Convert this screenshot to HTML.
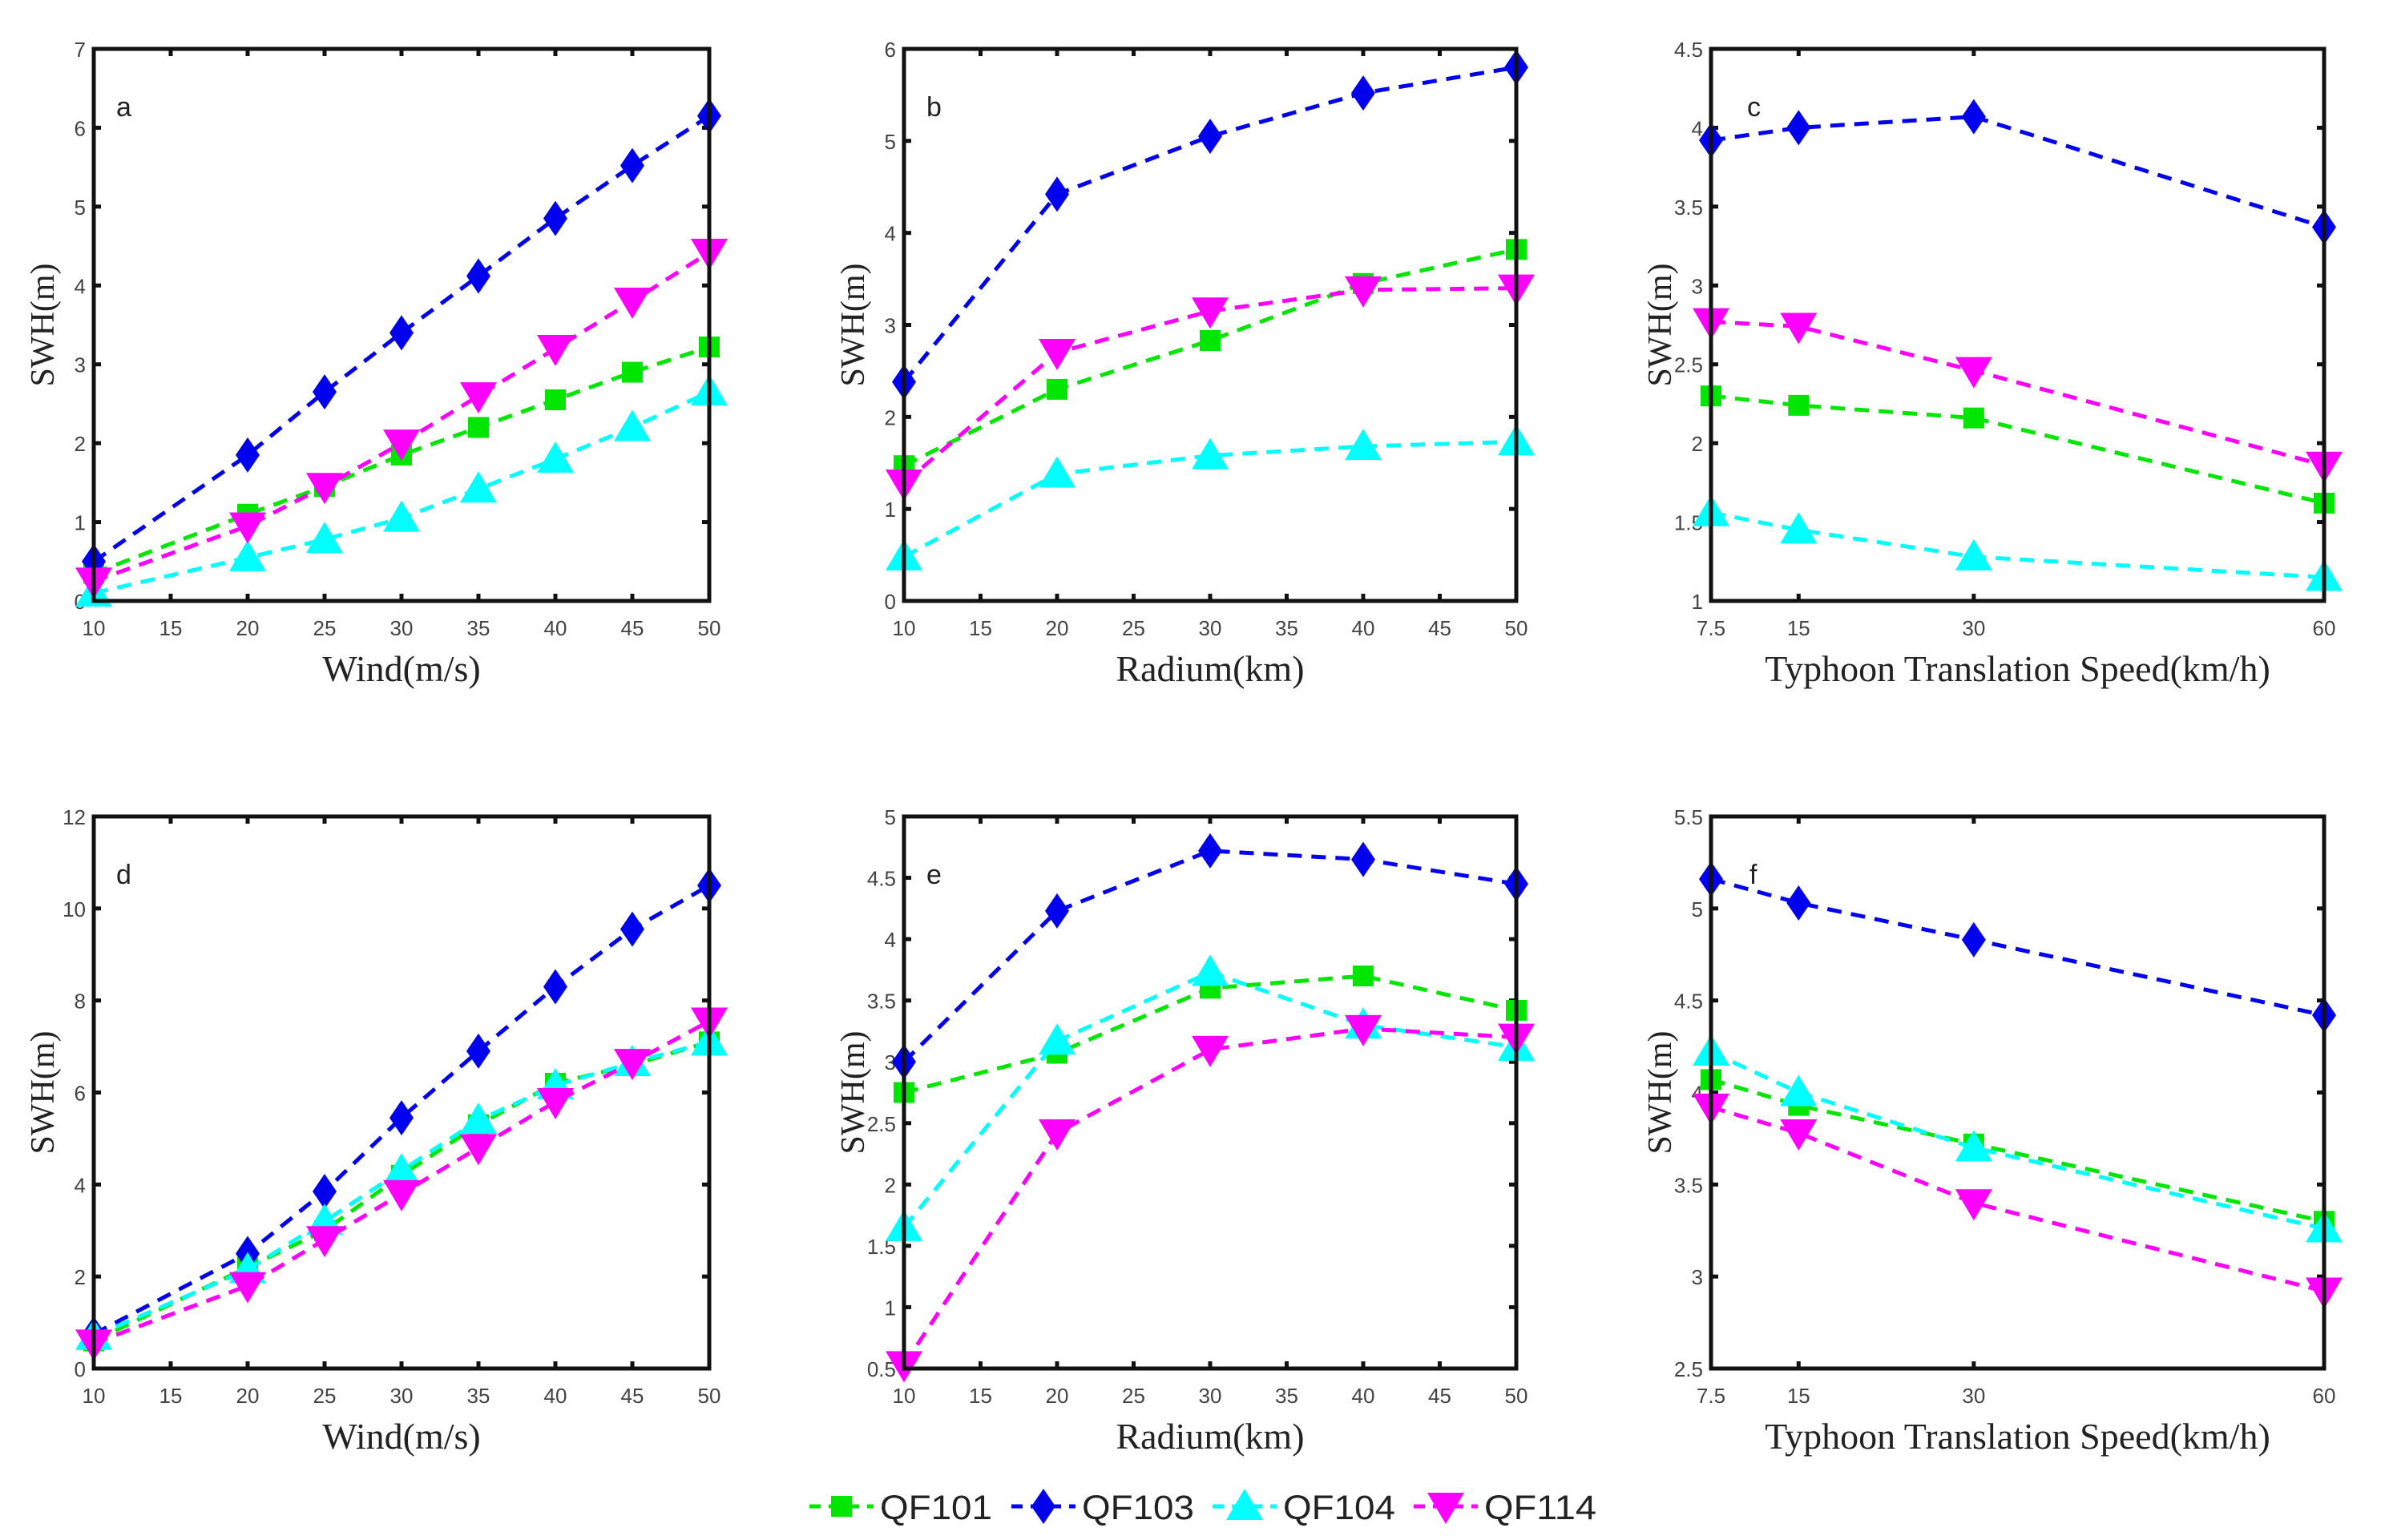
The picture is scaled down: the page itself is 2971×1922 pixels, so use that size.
<!DOCTYPE html>
<html><head><meta charset="utf-8">
<style>
html,body{margin:0;padding:0;background:#fff;}
svg{display:block;}
.tick{font-family:"Liberation Sans",sans-serif;font-size:26px;fill:#444;}
.title{font-family:"Liberation Serif",serif;font-size:46px;fill:#222;}
.ytitle{font-family:"Liberation Serif",serif;font-size:42px;fill:#222;}
.letter{font-family:"Liberation Sans",sans-serif;font-size:34px;fill:#222;}
.leg{font-family:"Liberation Sans",sans-serif;font-size:43px;fill:#222;}
</style></head>
<body>
<svg id="chart" width="2971" height="1922" viewBox="0 0 2971 1922" xmlns="http://www.w3.org/2000/svg"></svg>
<script>
// ---- data ----
const windX = [10,20,25,30,35,40,45,50];
const radX = [10,20,30,40,50];
const speedX = [7.5,15,30,60];
const windTicks = [10,15,20,25,30,35,40,45,50];
const radTicks = [10,15,20,25,30,35,40,45,50];
const speedTicks = [7.5,15,30,60];

const aQF101=[0.35,1.1,1.45,1.85,2.2,2.55,2.9,3.22];
const aQF103=[0.5,1.85,2.65,3.4,4.12,4.85,5.52,6.15];
const aQF104=[0.1,0.55,0.78,1.05,1.42,1.8,2.2,2.65];
const aQF114=[0.25,0.95,1.45,2.0,2.6,3.2,3.8,4.42];
const bQF101=[1.47,2.3,2.83,3.45,3.82];
const bQF103=[2.38,4.42,5.05,5.52,5.8];
const bQF104=[0.48,1.38,1.58,1.68,1.73];
const bQF114=[1.28,2.7,3.15,3.38,3.4];
const cQF101=[2.3,2.24,2.16,1.62];
const cQF103=[3.92,4.0,4.07,3.37];
const cQF104=[1.56,1.45,1.28,1.15];
const cQF114=[2.77,2.74,2.46,1.86];
const dQF101=[0.6,2.2,3.0,4.2,5.3,6.2,6.6,7.1];
const dQF103=[0.75,2.5,3.85,5.45,6.9,8.3,9.55,10.5];
const dQF104=[0.7,2.15,3.2,4.3,5.4,6.15,6.65,7.1];
const dQF114=[0.55,1.8,2.8,3.8,4.8,5.8,6.65,7.55];
const eQF101=[2.75,3.07,3.6,3.7,3.42];
const eQF103=[3.0,4.23,4.72,4.65,4.45];
const eQF104=[1.65,3.17,3.73,3.3,3.12];
const eQF114=[0.53,2.42,3.1,3.27,3.2];
const fQF101=[4.07,3.93,3.72,3.3];
const fQF103=[5.16,5.03,4.83,4.42];
const fQF104=[4.22,4.0,3.7,3.26];
const fQF114=[3.92,3.78,3.4,2.92];

const seriesNames=["QF101","QF103","QF104","QF114"];

const NS="http://www.w3.org/2000/svg";
const svg=document.getElementById('chart');
function mk(tag,attrs,parent){const e=document.createElementNS(NS,tag);for(const k in attrs)e.setAttribute(k,attrs[k]);(parent||svg).appendChild(e);return e;}

const colors={QF101:"#00e600",QF103:"#0000ee",QF104:"#00ffff",QF114:"#ff00ff"};
function marker(g,name,x,y){
  let m;
  if(name==="QF101"){m=mk('rect',{x:x-13,y:y-13,width:26,height:26,fill:colors[name]},g);}
  else if(name==="QF103"){m=mk('polygon',{points:`${x},${y-22} ${x+15},${y} ${x},${y+22} ${x-15},${y}`,fill:colors[name]},g);}
  else if(name==="QF104"){m=mk('polygon',{points:`${x},${y-22} ${x+23},${y+17} ${x-23},${y+17}`,fill:colors[name]},g);}
  else {m=mk('polygon',{points:`${x},${y+22} ${x+23},${y-17} ${x-23},${y-17}`,fill:colors[name]},g);}
  
  
}

const panels=[
 {id:'a',lx:28,x0:117,x1:885,y0:61,y1:750,xmin:10,xmax:50,ymin:0,ymax:7,yticks:[0,1,2,3,4,5,6,7],xs:windX,xt:windTicks,xtitle:'Wind(m/s)',data:[aQF101,aQF103,aQF104,aQF114]},
 {id:'b',lx:28,x0:1128,x1:1892,y0:61,y1:750,xmin:10,xmax:50,ymin:0,ymax:6,yticks:[0,1,2,3,4,5,6],xs:radX,xt:radTicks,xtitle:'Radium(km)',data:[bQF101,bQF103,bQF104,bQF114]},
 {id:'c',lx:45,x0:2135,x1:2900,y0:61,y1:750,xmin:7.5,xmax:60,ymin:1,ymax:4.5,yticks:[1,1.5,2,2.5,3,3.5,4,4.5],xs:speedX,xt:speedTicks,xtitle:'Typhoon Translation Speed(km/h)',data:[cQF101,cQF103,cQF104,cQF114]},
 {id:'d',lx:28,x0:117,x1:885,y0:1019,y1:1708,xmin:10,xmax:50,ymin:0,ymax:12,yticks:[0,2,4,6,8,10,12],xs:windX,xt:windTicks,xtitle:'Wind(m/s)',data:[dQF101,dQF103,dQF104,dQF114]},
 {id:'e',lx:28,x0:1128,x1:1892,y0:1019,y1:1708,xmin:10,xmax:50,ymin:0.5,ymax:5,yticks:[0.5,1,1.5,2,2.5,3,3.5,4,4.5,5],xs:radX,xt:radTicks,xtitle:'Radium(km)',data:[eQF101,eQF103,eQF104,eQF114]},
 {id:'f',lx:48,x0:2135,x1:2900,y0:1019,y1:1708,xmin:7.5,xmax:60,ymin:2.5,ymax:5.5,yticks:[2.5,3,3.5,4,4.5,5,5.5],xs:speedX,xt:speedTicks,xtitle:'Typhoon Translation Speed(km/h)',data:[fQF101,fQF103,fQF104,fQF114]}
];

panels.forEach(p=>{
  const g=mk('g',{});
  
  
  const X=v=>p.x0+(v-p.xmin)/(p.xmax-p.xmin)*(p.x1-p.x0);
  const Y=v=>p.y1-(v-p.ymin)/(p.ymax-p.ymin)*(p.y1-p.y0);
  p.xt.forEach(t=>{
    const x=X(t);
    mk('line',{x1:x,y1:p.y1,x2:x,y2:p.y1-9,stroke:'#111','stroke-width':5},g);
    mk('line',{x1:x,y1:p.y0,x2:x,y2:p.y0+9,stroke:'#111','stroke-width':5},g);
    const tx=mk('text',{x:x,y:p.y1+43,'text-anchor':'middle',class:'tick'},g);
    tx.textContent=t;
    
    
  });
  p.yticks.forEach(t=>{
    const y=Y(t);
    mk('line',{x1:p.x0,y1:y,x2:p.x0+9,y2:y,stroke:'#111','stroke-width':5},g);
    mk('line',{x1:p.x1,y1:y,x2:p.x1-9,y2:y,stroke:'#111','stroke-width':5},g);
    const tx=mk('text',{x:p.x0-10,y:y+10,'text-anchor':'end',class:'tick'},g);
    tx.textContent=t;
    
    
  });
  p.data.forEach((arr,si)=>{
    const name=seriesNames[si];
    const sg=mk('g',{},g);
    
    
    const pts=arr.map((v,i)=>X(p.xs[i])+','+Y(v)).join(' ');
    mk('polyline',{points:pts,fill:'none',stroke:colors[name],'stroke-width':5,'stroke-dasharray':'18,12'},sg);
    arr.forEach((v,i)=>marker(sg,name,X(p.xs[i]),Y(v)));
  });
  const fr=mk('rect',{x:p.x0,y:p.y0,width:p.x1-p.x0,height:p.y1-p.y0,fill:'none',stroke:'#111','stroke-width':5},g);
  
  
  const lt=mk('text',{x:p.x0+p.lx,y:p.y0+84,class:'letter'},g);
  lt.textContent=p.id;
  
  
  const xt=mk('text',{x:(p.x0+p.x1)/2,y:p.y1+100,'text-anchor':'middle',class:'title'},g);
  xt.textContent=p.xtitle;
  
  
  const cy=(p.y0+p.y1)/2, yx=p.x0-50;
  const yt=mk('text',{x:yx,y:cy,'text-anchor':'middle',class:'ytitle',transform:`rotate(-90 ${yx} ${cy})`},g);
  yt.textContent='SWH(m)';
  
  
});

const legX=[1010,1262,1513,1764];
const lg=mk('g',{});


seriesNames.forEach((name,i)=>{
  const eg=mk('g',{},lg);
  
  
  const x=legX[i], y=1880;
  mk('line',{x1:x,y1:y,x2:x+80,y2:y,stroke:colors[name],'stroke-width':5,'stroke-dasharray':'14,10'},eg);
  marker(eg,name,x+40,y);
  const t=mk('text',{x:x+88,y:y+16,class:'leg',textLength:'140',lengthAdjust:'spacingAndGlyphs'},eg);
  t.textContent=name;
  
  
});
</script>
</body></html>
